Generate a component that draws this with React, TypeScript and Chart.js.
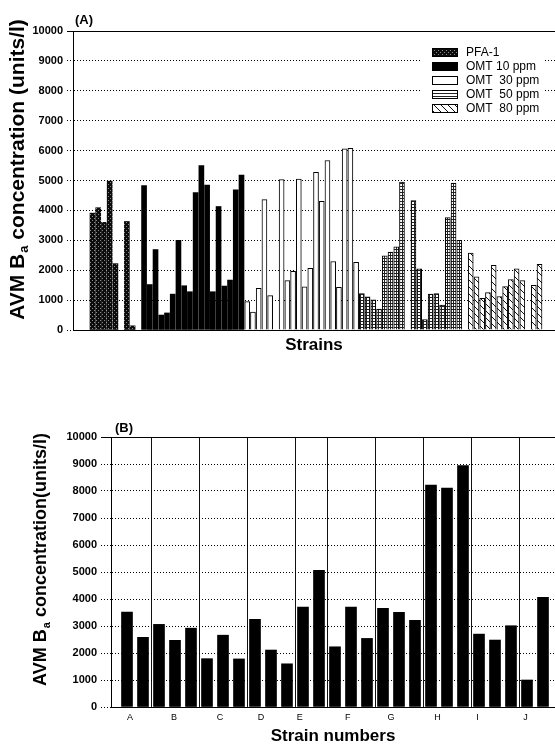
import React, { useEffect, useRef } from 'react';
import { Chart, registerables } from 'chart.js';

Chart.register(...registerables);

const FONT = "'Liberation Sans', Arial, Helvetica, sans-serif";

// ---------- shared ----------
const yTickValues = [0, 1000, 2000, 3000, 4000, 5000, 6000, 7000, 8000, 9000, 10000];
const yTitleParts = ['AVM B', 'a', ' concentration (units/l)'];
const yTitlePartsB = ['AVM B', 'a', ' concentration(units/l)'];

// ---------- panel A (strains in order, 0 = no bar) ----------
const panelALabel = '(A)';
const panelAXTitle = 'Strains';
const seriesNames = ['PFA-1', 'OMT 10 ppm', 'OMT  30 ppm', 'OMT  50 ppm', 'OMT  80 ppm'];
const pfa1Values = [3910, 4090, 3600, 4980, 2220, 0, 3630, 140, 0];
const omt10Values = [4830, 1520, 2690, 500, 570, 1200, 3000, 1480, 1280, 4600, 5500, 4850, 1280, 4130, 1470, 1670, 4690, 5180];
const omt30Values = [950, 600, 1390, 4360, 1150, 0, 5030, 1650, 1960, 5050, 1440, 2060, 5270, 4300, 5670, 2290, 1430, 6060, 6080, 2260];
const omt50Values = [1220, 1110, 1010, 700, 2480, 2610, 2780, 4950, 0, 4330, 2050, 350, 1200, 1220, 830, 3760, 4910, 3000, 0];
const omt80Values = [2570, 1780, 1060, 1250, 2160, 1120, 1450, 1690, 2050, 1650, 0, 1490, 2200];

// ---------- panel B ----------
const panelBLabel = '(B)';
const panelBXTitle = 'Strain numbers';
const strainGroups = ['A', 'B', 'C', 'D', 'E', 'F', 'G', 'H', 'I', 'J'];
const groupValuesB = [
  [3520, 2580],
  [3060, 2470, 2920],
  [1790, 2660, 1780],
  [3250, 2110, 1600],
  [3700, 5060],
  [2230, 3700, 2540],
  [3650, 3510, 3210],
  [8220, 8110, 8940],
  [2700, 2480, 3010],
  [1000, 4060],
];
const groupTickValuesB = [1.19, 3.94, 6.81, 9.38, 11.8, 14.8, 17.5, 20.4, 22.9, 25.9];

function makePattern(w: number, h: number, draw: (g: CanvasRenderingContext2D) => void) {
  const c = document.createElement('canvas');
  c.width = w;
  c.height = h;
  const g = c.getContext('2d')!;
  draw(g);
  return g.createPattern(c, 'repeat')!;
}

function makeFills() {
  const stipple = makePattern(4, 4, (g) => {
    g.fillStyle = '#0c0c0c';
    g.fillRect(0, 0, 4, 4);
    g.fillStyle = '#8a8a8a';
    g.fillRect(0, 0, 1, 1);
    g.fillRect(2, 2, 1, 1);
  });
  const grid = makePattern(3, 3, (g) => {
    g.fillStyle = '#fff';
    g.fillRect(0, 0, 3, 3);
    g.fillStyle = '#222';
    g.fillRect(0, 0, 3, 1);
    g.fillRect(0, 0, 1, 3);
  });
  const stripes = makePattern(3, 3, (g) => {
    g.fillStyle = '#fff';
    g.fillRect(0, 0, 3, 3);
    g.fillStyle = '#222';
    g.fillRect(0, 0, 3, 1);
  });
  const hatch = makePattern(7, 7, (g) => {
    g.fillStyle = '#fff';
    g.fillRect(0, 0, 7, 7);
    g.fillStyle = '#111';
    for (let i = 0; i < 7; i++) g.fillRect(i, i, 1, 1);
  });
  return {
    bars: [stipple, '#000', '#fff', grid, hatch],
    legend: [stipple, '#000', '#fff', stripes, hatch],
  };
}

function drawYTitle(ctx: CanvasRenderingContext2D, cx: number, cy: number, size: number, parts: string[]) {
  ctx.save();
  ctx.translate(cx, cy);
  ctx.rotate(-Math.PI / 2);
  const main = `bold ${size}px ${FONT}`;
  const sub = `bold ${Math.round(size * 0.62)}px ${FONT}`;
  ctx.font = main;
  const w1 = ctx.measureText(parts[0]).width;
  const w3 = ctx.measureText(parts[2]).width;
  ctx.font = sub;
  const w2 = ctx.measureText(parts[1]).width;
  let x = -(w1 + w2 + w3) / 2;
  const base = size * 0.36;
  ctx.fillStyle = '#000';
  ctx.textAlign = 'left';
  ctx.textBaseline = 'alphabetic';
  ctx.font = main;
  ctx.fillText(parts[0], x, base);
  x += w1;
  ctx.font = sub;
  ctx.fillText(parts[1], x + 1, base + size * 0.22);
  x += w2 + 1;
  ctx.font = main;
  ctx.fillText(parts[2], x, base);
  ctx.restore();
}

function decorPlugin(o: { label: string; labelX: number; labelY: number; labelSize: number; lineFrom: number; titleX: number; titleY: number; titleSize: number; titleParts: string[] }) {
  return {
    id: 'decor',
    afterDraw(chart: any) {
      const { ctx, chartArea, scales } = chart;
      const yTop = Math.round(scales.y.getPixelForValue(10000)) + 0.5;
      ctx.save();
      ctx.strokeStyle = '#000';
      ctx.lineWidth = 1;
      ctx.setLineDash([]);
      ctx.beginPath();
      ctx.moveTo(o.lineFrom, yTop);
      ctx.lineTo(chartArea.right, yTop);
      ctx.stroke();
      ctx.fillStyle = '#000';
      ctx.font = `bold ${o.labelSize}px ${FONT}`;
      ctx.textAlign = 'left';
      ctx.textBaseline = 'middle';
      ctx.fillText(o.label, o.labelX, o.labelY);
      ctx.restore();
      drawYTitle(ctx, o.titleX, o.titleY, o.titleSize, o.titleParts);
    },
  };
}

function legendPlugin(fills: any[]) {
  return {
    id: 'panelLegend',
    afterDraw(chart: any) {
      const { ctx } = chart;
      ctx.save();
      ctx.fillStyle = '#fff';
      ctx.fillRect(420, 44, 125, 72);
      chart.data.datasets.forEach((ds: any, i: number) => {
        const cy = 52 + i * 14;
        ctx.fillStyle = fills[i];
        ctx.fillRect(432, cy - 4, 26, 9);
        ctx.strokeStyle = '#000';
        ctx.lineWidth = 1;
        ctx.strokeRect(432.5, cy - 3.5, 25, 8);
        ctx.fillStyle = '#000';
        ctx.font = `12px ${FONT}`;
        ctx.textAlign = 'left';
        ctx.textBaseline = 'middle';
        ctx.fillText(ds.label, 466, cy + 1);
      });
      ctx.restore();
    },
  };
}

function yAxis(width: number, tickLength: number) {
  return {
    min: 0,
    max: 10000,
    afterBuildTicks: (s: any) => {
      s.ticks = yTickValues.map((v) => ({ value: v }));
    },
    afterFit: (s: any) => {
      s.width = width;
    },
    ticks: {
      callback: (v: any) => String(v),
      color: '#000',
      font: { family: FONT, size: 11, weight: 'bold' },
      padding: 4,
    },
    grid: {
      color: '#000',
      lineWidth: 1,
      drawTicks: true,
      tickLength,
      tickColor: '#000',
      tickBorderDash: [1, 2],
    },
    border: { display: true, color: '#000', width: 1, dash: [1, 2] },
  };
}

function buildConfigA(fills: any) {
  const allSeries = [pfa1Values, omt10Values, omt30Values, omt50Values, omt80Values];
  let idx = 0;
  const datasets = allSeries.map((vals, si) => {
    const pts = vals.map((v) => ({ x: idx++, y: v })).filter((p) => p.y > 0);
    return {
      label: seriesNames[si],
      data: pts,
      backgroundColor: fills.bars[si],
      borderColor: '#000',
      borderWidth: si < 2 ? 0 : 1,
      borderSkipped: 'bottom',
      barThickness: 5,
      grouped: false,
    };
  });
  return {
    type: 'bar',
    data: { datasets },
    options: {
      animation: false,
      responsive: false,
      maintainAspectRatio: false,
      events: [],
      layout: { padding: { top: 31, left: 0, right: 0, bottom: 0 } },
      plugins: { legend: { display: false }, tooltip: { enabled: false }, title: { display: false } },
      scales: {
        x: {
          type: 'linear',
          min: -3.4,
          max: 80.7,
          offset: false,
          bounds: 'data',
          grace: 0,
          grid: { display: false, offset: false },
          ticks: { display: false, padding: 0 },
          border: { display: true, color: '#000', width: 1 },
          title: {
            display: true,
            text: panelAXTitle,
            color: '#000',
            font: { family: FONT, size: 17, weight: 'bold' },
            padding: { top: 0, bottom: 4 },
          },
          afterFit: (s: any) => {
            s.height = 30;
          },
        },
        y: yAxis(73, 6),
      },
    },
    plugins: [
      decorPlugin({ label: panelALabel, labelX: 75, labelY: 20, labelSize: 13, lineFrom: 67, titleX: 16, titleY: 170, titleSize: 21, titleParts: yTitleParts }),
      legendPlugin(fills.legend),
    ],
  };
}

function buildConfigB() {
  const pts: { x: number; y: number }[] = [];
  const boundaries: number[] = [];
  let idx = 1;
  groupValuesB.forEach((vals, gi) => {
    vals.forEach((v) => pts.push({ x: idx++, y: v }));
    if (gi < groupValuesB.length - 1) boundaries.push(idx - 0.5);
  });
  const labelMap = new Map<number, string>();
  groupTickValuesB.forEach((v, i) => labelMap.set(v, strainGroups[i]));
  const boundarySet = new Set(boundaries);
  const allTicks = [...boundaries, ...groupTickValuesB].sort((a, b) => a - b);
  return {
    type: 'bar',
    data: {
      datasets: [
        {
          label: 'AVM Ba',
          data: pts,
          backgroundColor: '#000',
          borderWidth: 0,
          barThickness: 11,
          grouped: false,
        },
      ],
    },
    options: {
      animation: false,
      responsive: false,
      maintainAspectRatio: false,
      events: [],
      layout: { padding: { top: 57, left: 0, right: 0, bottom: 0 } },
      plugins: { legend: { display: false }, tooltip: { enabled: false }, title: { display: false } },
      scales: {
        x: {
          type: 'linear',
          min: 0,
          max: 27.75,
          offset: false,
          bounds: 'data',
          grace: 0,
          afterBuildTicks: (s: any) => {
            s.ticks = allTicks.map((v) => ({ value: v }));
          },
          afterFit: (s: any) => {
            s.height = 40;
          },
          ticks: {
            autoSkip: false,
            maxRotation: 0,
            callback: (v: any) => labelMap.get(v) ?? '',
            color: '#000',
            font: { family: FONT, size: 9 },
            padding: 5,
          },
          grid: {
            drawTicks: false,
            offset: false,
            lineWidth: 1,
            color: (c: any) => (c.tick && boundarySet.has(c.tick.value) ? '#111' : 'rgba(0,0,0,0)'),
          },
          border: { display: true, color: '#000', width: 1 },
          title: {
            display: true,
            text: panelBXTitle,
            color: '#000',
            font: { family: FONT, size: 17, weight: 'bold' },
            padding: { top: 0, bottom: 0 },
          },
        },
        y: yAxis(111, 10),
      },
    },
    plugins: [
      decorPlugin({ label: panelBLabel, labelX: 115, labelY: 48, labelSize: 13, lineFrom: 101, titleX: 40, titleY: 180, titleSize: 18, titleParts: yTitlePartsB }),
    ],
  };
}

export default function App() {
  const refA = useRef<HTMLCanvasElement>(null);
  const refB = useRef<HTMLCanvasElement>(null);
  useEffect(() => {
    const fills = makeFills();
    const chartA = new Chart(refA.current as HTMLCanvasElement, buildConfigA(fills) as any);
    const chartB = new Chart(refB.current as HTMLCanvasElement, buildConfigB() as any);
    return () => {
      chartA.destroy();
      chartB.destroy();
    };
  }, []);
  return (
    <div style={{ position: 'absolute', left: 0, top: 0, width: 555, height: 747, background: '#fff', overflow: 'hidden' }}>
      <canvas ref={refA} width={555} height={360} style={{ position: 'absolute', left: 0, top: 0, width: 555, height: 360 }} />
      <canvas ref={refB} width={555} height={367} style={{ position: 'absolute', left: 0, top: 380, width: 555, height: 367 }} />
    </div>
  );
}
